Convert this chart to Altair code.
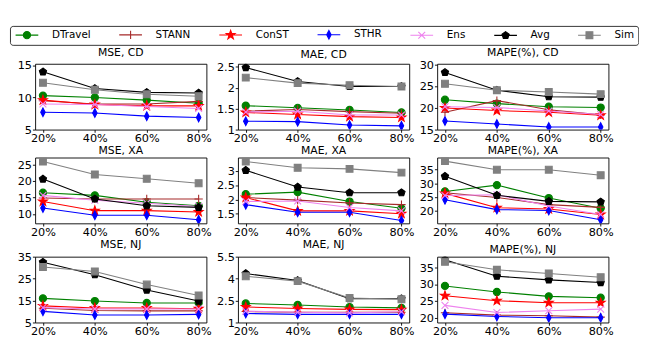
import math
import altair as alt
import pandas as pd

x_pct = [20, 40, 60, 80]
series = ["DTravel", "STANN", "ConST", "STHR", "Ens", "Avg", "Sim"]
colors = ["#008000", "#a52a2a", "#ff0000", "#0000ff", "#ee82ee", "#000000", "#808080"]

# values per panel, series order as in `series`
mse_cd = [[10.3, 10.0, 9.6, 9.1], [9.5, 9.0, 9.0, 9.4], [9.6, 8.9, 8.7, 8.7], [7.7, 7.6, 7.1, 6.9],
          [9.0, 8.9, 8.6, 8.3], [14.0, 11.4, 10.8, 10.7], [12.3, 11.2, 10.5, 10.2]]
mae_cd = [[1.57, 1.52, 1.47, 1.41], [1.44, 1.48, 1.43, 1.39], [1.41, 1.36, 1.31, 1.29], [1.20, 1.19, 1.11, 1.09],
          [1.42, 1.44, 1.35, 1.35], [2.48, 2.15, 2.03, 2.03], [2.24, 2.11, 2.06, 2.03]]
mape_cd = [[21.9, 21.0, 20.3, 20.1], [19.0, 21.7, 19.6, 18.4], [20.0, 19.4, 19.0, 18.3], [17.0, 16.3, 15.6, 15.6],
           [20.3, 20.1, 19.3, 18.5], [28.2, 24.1, 22.6, 22.5], [25.6, 24.1, 23.7, 23.2]]
mse_xa = [[16.5, 15.7, 13.6, 12.5], [14.9, 14.6, 14.6, 14.6], [13.8, 11.0, 11.0, 10.6], [11.8, 9.6, 9.6, 8.2],
          [15.7, 14.2, 13.3, 12.3], [20.7, 14.6, 12.5, 12.0], [26.1, 22.1, 20.8, 19.4]]
mae_xa = [[2.19, 2.26, 1.93, 1.69], [2.07, 1.98, 1.88, 1.82], [2.07, 1.60, 1.60, 1.50], [1.82, 1.55, 1.55, 1.26],
          [1.93, 1.95, 1.72, 1.60], [3.03, 2.44, 2.24, 2.24], [3.34, 3.12, 3.08, 2.95]]
mape_xa = [[27.1, 29.4, 24.7, 21.0], [26.6, 24.9, 22.3, 21.3], [26.4, 21.2, 20.7, 18.7], [24.1, 20.5, 20.2, 16.8],
           [25.6, 25.9, 21.8, 18.7], [32.6, 25.7, 23.5, 23.3], [38.1, 35.0, 35.0, 33.0]]
mse_nj = [[16.0, 14.8, 13.9, 13.9], [11.5, 10.5, 10.3, 10.3], [12.6, 11.6, 11.6, 11.3], [10.1, 8.4, 8.4, 8.7],
          [11.8, 11.2, 11.2, 11.2], [32.5, 26.8, 19.8, 14.8], [30.3, 28.3, 22.3, 17.3]]
mae_nj = [[2.30, 2.20, 2.06, 2.00], [1.75, 1.70, 1.70, 1.70], [2.06, 1.96, 1.90, 1.88], [1.62, 1.56, 1.56, 1.56],
          [1.78, 1.70, 1.66, 1.74], [4.35, 3.87, 2.63, 2.63], [4.16, 3.83, 2.68, 2.59]]
mape_nj = [[29.5, 27.7, 26.4, 26.0], [21.5, 20.8, 20.6, 20.2], [26.6, 25.1, 24.5, 24.5], [21.1, 20.4, 20.0, 20.0],
           [23.7, 21.6, 22.1, 22.6], [37.3, 32.4, 31.3, 30.5], [36.7, 34.3, 33.2, 32.1]]

titles = [["MSE, CD", "MAE, CD", "MAPE(%), CD"],
          ["MSE, XA", "MAE, XA", "MAPE(%), XA"],
          ["MSE, NJ", "MAE, NJ", "MAPE(%), NJ"]]
panels = [[mse_cd, mae_cd, mape_cd], [mse_xa, mae_xa, mape_xa], [mse_nj, mae_nj, mape_nj]]
y_domains = [[[5, 15.25], [1, 2.57], [15, 30.2]],
             [[7.1, 27.3], [1.16, 3.48], [15.5, 39.4]],
             [[5, 35], [1, 5.5], [18.6, 38.2]]]
y_ticks = [[[5, 10, 15], [1, 1.5, 2, 2.5], [15, 20, 25, 30]],
           [[10, 15, 20, 25], [1.5, 2, 2.5, 3], [20, 25, 30, 35]],
           [[5, 15, 25, 35], [1, 2.5, 4, 5.5], [20, 25, 30, 35]]]


# ---- marker shapes (unit paths) ----
def poly(points):
    return "M" + "L".join(f"{x:.3f},{y:.3f}" for x, y in points) + "Z"


def circle(r):
    return f"M{r},0A{r},{r} 0 1,1 {-r},0A{r},{r} 0 1,1 {r},0Z"


star = poly([((1.3 if k % 2 == 0 else 0.52) * math.cos(-math.pi / 2 + k * math.pi / 5),
              (1.3 if k % 2 == 0 else 0.52) * math.sin(-math.pi / 2 + k * math.pi / 5)) for k in range(10)])
pentagon = poly([(1.05 * math.cos(-math.pi / 2 + k * 2 * math.pi / 5),
                  1.05 * math.sin(-math.pi / 2 + k * 2 * math.pi / 5)) for k in range(5)])
marker_paths = [
    circle(1.0),
    "M-1.15,0L1.15,0M0,-1.15L0,1.15",
    star,
    "M0,-1.2L0.62,0L0,1.2L-0.62,0Z",
    "M-0.95,-0.95L0.95,0.95M-0.95,0.95L0.95,-0.95",
    pentagon,
    "M-0.95,-0.95L0.95,-0.95L0.95,0.95L-0.95,0.95Z",
]
legend_paths = ["M-3.15,0L3.15,0" + p for p in marker_paths]

FONT = "DejaVu Sans"
W, H = 190, 73


def panel(values, title, ydom, yt):
    rows = []
    for s, vals in zip(series, values):
        for xv, v in zip(x_pct, vals):
            rows.append({"series": s, "x": xv, "v": v})
    df = pd.DataFrame(rows)
    base = alt.Chart(df).encode(
        x=alt.X("x:Q", scale=alt.Scale(domain=[17, 83], nice=False, zero=False),
                axis=alt.Axis(values=x_pct, labelExpr="datum.value + '%'", title=None,
                              labelFlush=False, labelOverlap=False, labelPadding=0)),
        y=alt.Y("v:Q", scale=alt.Scale(domain=ydom, nice=False, zero=False),
                axis=alt.Axis(values=yt, labelExpr="'' + datum.value", title=None, labelOverlap=False,
                              labelFlush=False, labelPadding=1)),
    )
    layers = []
    for s, col, shp in zip(series, colors, marker_paths):
        sub = base.transform_filter(alt.datum.series == s)
        layers.append(sub.mark_line(strokeWidth=1.2, color=col, clip=True).encode(order=alt.Order("x:Q")))
        layers.append(sub.mark_point(filled=True, opacity=1, size=64, strokeWidth=1.2, shape=shp,
                                     fill=col, stroke=col, clip=True))
    return alt.layer(*layers).properties(
        width=W, height=H,
        title=alt.TitleParams(title, fontSize=12, font=FONT, fontWeight="normal", offset=1),
    )


rows_charts = []
for r in range(3):
    rows_charts.append(alt.hconcat(
        *[panel(panels[r][c], titles[r][c], y_domains[r][c], y_ticks[r][c]) for c in range(3)],
        spacing=4,
    ))

leg = alt.Legend(orient="top", direction="horizontal", title=None, symbolSize=64,
                 symbolStrokeWidth=1.2, symbolOpacity=1, labelFontSize=11.5, labelFont=FONT,
                 labelColor="black", columnPadding=28, symbolOffset=9, labelOffset=22, offset=0,
                 padding=4, strokeColor="#222222", cornerRadius=3, fillColor="white")
legend_df = pd.DataFrame({"series": series})
legend_chart = alt.Chart(legend_df).mark_point(filled=True, opacity=0, size=1).encode(
    x=alt.value(0), y=alt.value(0),
    fill=alt.Fill("series:N", scale=alt.Scale(domain=series, range=colors), legend=leg, sort=series),
    stroke=alt.Stroke("series:N", scale=alt.Scale(domain=series, range=colors), legend=leg, sort=series),
    shape=alt.Shape("series:N", scale=alt.Scale(domain=series, range=legend_paths), legend=leg, sort=series),
).properties(width=600, height=1, view=alt.ViewBackground(stroke=None))

chart = alt.vconcat(legend_chart, *rows_charts, spacing=0, center=True).resolve_scale(
    fill="independent", stroke="independent", shape="independent"
).configure(padding=0).configure_axis(
    labelFont=FONT, labelFontSize=12.5, labelColor="black", tickColor="black", tickSize=3,
    domain=False, grid=False,
).configure_view(stroke="black", strokeWidth=1)

chart.save("out.html", embed_options={"renderer": "svg", "actions": False})
